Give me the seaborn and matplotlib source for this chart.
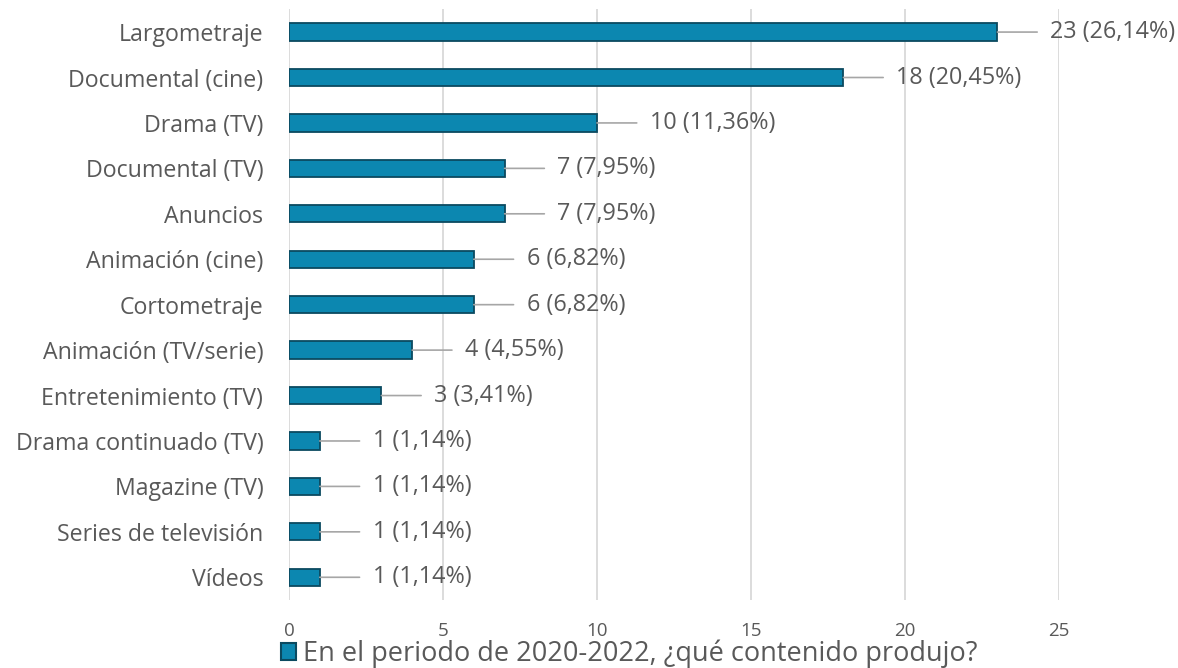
import matplotlib
matplotlib.use("Agg")
import matplotlib.pyplot as plt
import pandas as pd
import seaborn as sns
from matplotlib.patches import Patch

# Data
categories = ["Largometraje", "Documental (cine)", "Drama (TV)", "Documental (TV)",
              "Anuncios", "Animación (cine)", "Cortometraje", "Animación (TV/serie)",
              "Entretenimiento (TV)", "Drama continuado (TV)", "Magazine (TV)",
              "Series de televisión", "Vídeos"]
counts = [23, 18, 10, 7, 7, 6, 6, 4, 3, 1, 1, 1, 1]
pct_labels = ["26,14%", "20,45%", "11,36%", "7,95%", "7,95%", "6,82%", "6,82%",
              "4,55%", "3,41%", "1,14%", "1,14%", "1,14%", "1,14%"]
x_ticks = [0, 5, 10, 15, 20, 25]
legend_label = "En el periodo de 2020-2022, ¿qué contenido produjo?"

bar_color = "#0c87b0"
edge_color = "#0b4a60"
text_color = "#595959"

sns.set_style("white")
plt.rcParams["font.family"] = ["Open Sans", "DejaVu Sans"]

df = pd.DataFrame({"categoria": categories, "n": counts})

fig = plt.figure(figsize=(11.78, 6.68), dpi=100)
ax = fig.add_axes([0.2453, 0.1018, 0.6537, 0.8842])

sns.barplot(data=df, x="n", y="categoria", orient="h", color=bar_color,
            saturation=1, width=0.38, edgecolor=edge_color, linewidth=1.3, ax=ax)

ax.set_xlim(0, 25)
ax.set_xticks(x_ticks)
ax.set_xlabel("")
ax.set_ylabel("")
ax.grid(axis="x", color="#d9d9d9", linewidth=1.3)
ax.set_axisbelow(True)
for s in ax.spines.values():
    s.set_visible(False)
ax.tick_params(axis="x", length=0, pad=16, labelsize=13.5, labelcolor=text_color)
ax.tick_params(axis="y", length=0, pad=18.5, labelsize=16.7, labelcolor=text_color)

# data labels with leader lines
for i, (v, p) in enumerate(zip(counts, pct_labels)):
    ax.annotate(f"{v} ({p})", xy=(v, i), xytext=(38, 0), textcoords="offset points",
                ha="left", va="center", fontsize=16.8, color=text_color,
                arrowprops=dict(arrowstyle="-", color="#a6a6a6", lw=1.2,
                                shrinkA=7, shrinkB=0))

handle = Patch(facecolor=bar_color, edgecolor=edge_color, linewidth=1.5)
fig.legend([handle], [legend_label], loc="center", bbox_to_anchor=(0.534, 0.021),
           frameon=False, fontsize=19.5, labelcolor=text_color, borderpad=0,
           handlelength=0.55, handleheight=0.55, handletextpad=0.25)

fig.savefig("out.png", dpi=100)
